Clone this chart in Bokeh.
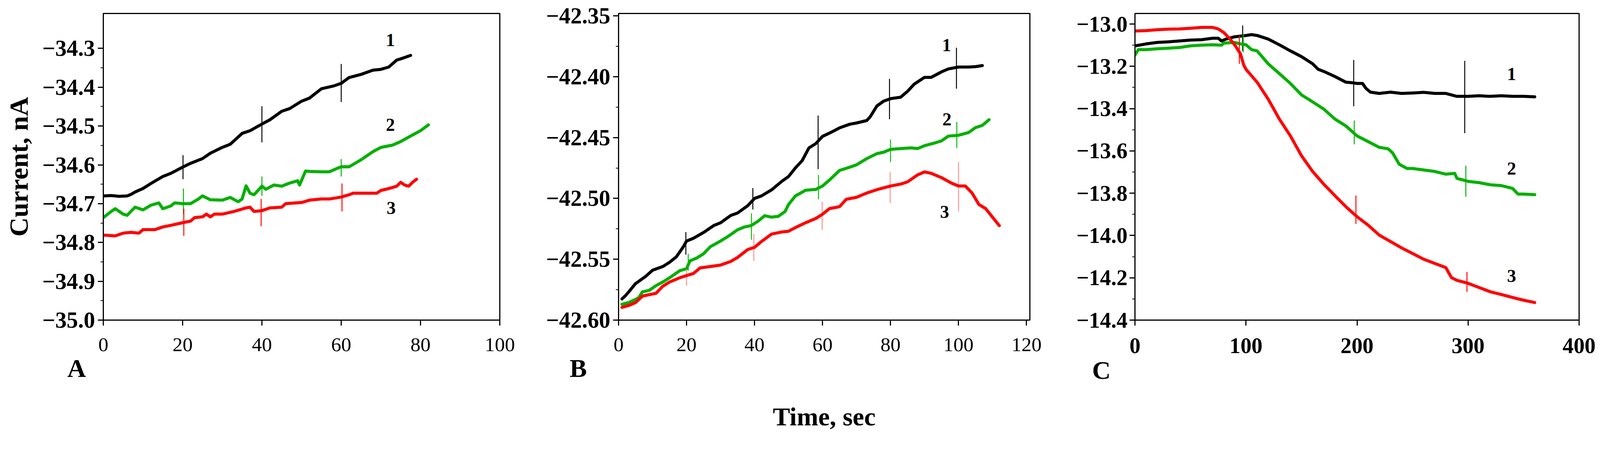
from bokeh.plotting import figure
from bokeh.layouts import row
from bokeh.models import FixedTicker, CustomJSTickFormatter, Label, Range1d, Title, LinearAxis
from bokeh.embed import file_html
from bokeh.resources import INLINE

# ---------------- data ----------------
# Panel A
A_t1 = [0, 2, 4, 6, 7, 8, 10, 12, 15, 17, 20, 22, 25, 27, 30, 32, 35, 37, 40, 42, 45, 47, 50, 52, 55, 58, 60, 62, 65, 68, 70, 72, 74, 75, 77.5]
A_y1 = [-34.680, -34.679, -34.681, -34.680, -34.676, -34.670, -34.661, -34.648, -34.630, -34.622, -34.606, -34.596,
        -34.584, -34.570, -34.555, -34.547, -34.519, -34.512, -34.495, -34.484, -34.462, -34.455, -34.436, -34.428,
        -34.404, -34.397, -34.390, -34.375, -34.367, -34.356, -34.354, -34.348, -34.330, -34.327, -34.318]
A_t2 = [0, 2, 3, 5, 6, 8, 10, 12, 14, 15, 17, 18, 20, 22, 24, 25, 27, 30, 32, 34, 35, 36, 37, 38, 40, 41, 43, 45, 47, 49,
        49.5, 50, 51, 52, 55, 57, 59, 60, 62, 65, 68, 70, 73, 75, 78, 80, 82]
A_y2 = [-34.736, -34.720, -34.713, -34.727, -34.730, -34.709, -34.716, -34.704, -34.698, -34.713, -34.706, -34.698,
        -34.700, -34.700, -34.688, -34.680, -34.690, -34.691, -34.684, -34.695, -34.688, -34.654, -34.673, -34.677,
        -34.655, -34.663, -34.652, -34.655, -34.647, -34.641, -34.652, -34.640, -34.616, -34.617, -34.618, -34.618,
        -34.609, -34.605, -34.605, -34.587, -34.566, -34.555, -34.549, -34.540, -34.523, -34.512, -34.497]
A_t3 = [0, 3, 5, 7, 9, 10, 13, 15, 17, 20, 22, 23, 25, 26, 27, 28, 30, 33, 35, 36, 37, 38, 40, 42, 45, 46, 50, 52, 55,
        57, 60, 62, 63, 66, 69, 70, 72, 74, 75, 76, 77, 78, 79]
A_y3 = [-34.781, -34.783, -34.776, -34.774, -34.776, -34.767, -34.767, -34.760, -34.756, -34.749, -34.745, -34.736,
        -34.734, -34.727, -34.734, -34.727, -34.727, -34.720, -34.714, -34.711, -34.709, -34.720, -34.718, -34.711,
        -34.709, -34.700, -34.697, -34.691, -34.688, -34.688, -34.683, -34.677, -34.673, -34.673, -34.673, -34.666,
        -34.661, -34.655, -34.645, -34.652, -34.655, -34.645, -34.637]
A_m1 = dict(t=[20.1, 40.0, 60.0], lo=[-34.637, -34.542, -34.438], hi=[-34.575, -34.449, -34.340])
A_m2 = dict(t=[20.2, 40.0, 60.0], lo=[-34.727, -34.680, -34.630], hi=[-34.661, -34.630, -34.585])
A_m3 = dict(t=[20.3, 39.8, 60.2], lo=[-34.783, -34.758, -34.720], hi=[-34.713, -34.688, -34.648])
A_xticks = [0, 20, 40, 60, 80, 100]
A_xlabels = ["0", "20", "40", "60", "80", "100"]
A_yticks = [-35.0, -34.9, -34.8, -34.7, -34.6, -34.5, -34.4, -34.3]
A_ylabels = ["\u221235.0", "\u221234.9", "\u221234.8", "\u221234.7", "\u221234.6", "\u221234.5", "\u221234.4", "\u221234.3"]

# Panel B
B_t1 = [1, 2, 3, 5, 8, 10, 13, 15, 17, 19, 20, 22, 25, 28, 30, 33, 35, 38, 40, 42, 45, 48, 50, 52, 54, 56, 58, 60, 63,
        65, 68, 70, 73, 74, 76, 78, 80, 83, 85, 87, 90, 92, 95, 97, 100, 103, 105, 107]
B_y1 = [-42.5826, -42.5800, -42.5768, -42.5700, -42.5640, -42.5590, -42.5560, -42.5525, -42.5480, -42.5400, -42.5350,
        -42.5328, -42.5280, -42.5223, -42.5200, -42.5140, -42.5120, -42.5060, -42.5000, -42.4980, -42.4930, -42.4860,
        -42.4820, -42.4750, -42.4690, -42.4585, -42.4550, -42.4490, -42.4450, -42.4420, -42.4390, -42.4380, -42.4360,
        -42.4330, -42.4240, -42.4200, -42.4180, -42.4168, -42.4120, -42.4060, -42.4005, -42.4005, -42.3960, -42.3936,
        -42.3920, -42.3920, -42.3917, -42.3908]
B_t2 = [1, 3, 5, 6, 7, 9, 11, 13, 15, 18, 20, 21, 23, 25, 27, 30, 32, 35, 37, 39, 41, 43, 45, 47, 49, 50, 52, 55, 58,
        60, 62, 65, 68, 70, 73, 76, 78, 80, 83, 86, 88, 90, 93, 95, 97, 100, 103, 105, 107, 109]
B_y2 = [-42.5870, -42.5856, -42.5830, -42.5814, -42.5768, -42.5756, -42.5717, -42.5687, -42.5652, -42.5594, -42.5578,
        -42.5513, -42.5490, -42.5455, -42.5397, -42.5350, -42.5316, -42.5258, -42.5235, -42.5223, -42.5188, -42.5142,
        -42.5154, -42.5147, -42.5107, -42.5050, -42.4980, -42.4933, -42.4926, -42.4898, -42.4850, -42.4770, -42.4743,
        -42.4724, -42.4673, -42.4632, -42.4620, -42.4597, -42.4590, -42.4585, -42.4590, -42.4567, -42.4544, -42.4527,
        -42.4488, -42.4481, -42.4458, -42.4418, -42.4400, -42.4353]
B_t3 = [1, 3, 5, 7, 9, 11, 13, 15, 18, 20, 22, 24, 27, 30, 33, 35, 38, 40, 42, 45, 48, 50, 52, 55, 58, 60, 62, 65, 67,
        70, 73, 76, 80, 83, 85, 88, 90, 92, 95, 98, 100, 102, 104, 106, 108, 110, 112]
B_y3 = [-42.5896, -42.5880, -42.5856, -42.5803, -42.5791, -42.5780, -42.5722, -42.5687, -42.5652, -42.5634, -42.5617,
        -42.5571, -42.5560, -42.5548, -42.5518, -42.5485, -42.5420, -42.5402, -42.5355, -42.5293, -42.5276, -42.5270,
        -42.5240, -42.5200, -42.5165, -42.5130, -42.5084, -42.5068, -42.5007, -42.4991, -42.4956, -42.4928, -42.4898,
        -42.4882, -42.4864, -42.4806, -42.4782, -42.4794, -42.4829, -42.4875, -42.4898, -42.4898, -42.4956, -42.5050,
        -42.5084, -42.5154, -42.5223]
B_m1 = dict(t=[19.8, 39.5, 58.7, 79.7, 99.4], lo=[-42.5462, -42.5091, -42.4759, -42.4349, -42.4098],
            hi=[-42.5276, -42.4915, -42.4319, -42.4017, -42.3762])
B_m2 = dict(t=[20.5, 39.1, 58.8, 80.0, 99.5], lo=[-42.5594, -42.5339, -42.5007, -42.4701, -42.4585],
            hi=[-42.5455, -42.5123, -42.4806, -42.4516, -42.4372])
B_m3 = dict(t=[20.0, 39.8, 59.9, 79.9, 100.0], lo=[-42.5717, -42.5513, -42.5258, -42.5038, -42.5107],
            hi=[-42.5583, -42.5293, -42.5026, -42.4782, -42.4701])
B_xticks = [0, 20, 40, 60, 80, 100, 120]
B_xlabels = ["0", "20", "40", "60", "80", "100", "120"]
B_yticks = [-42.60, -42.55, -42.50, -42.45, -42.40, -42.35]
B_ylabels = ["\u221242.60", "\u221242.55", "\u221242.50", "\u221242.45", "\u221242.40", "\u221242.35"]

# Panel C
C_t1 = [0, 10, 20, 30, 40, 50, 60, 70, 75, 78, 82, 90, 100, 105, 110, 120, 130, 140, 150, 160, 165, 170, 180, 190, 195,
        200, 205, 208, 212, 220, 230, 240, 250, 260, 270, 280, 285, 290, 300, 310, 320, 330, 340, 350, 360]
C_y1 = [-13.103, -13.094, -13.087, -13.084, -13.080, -13.076, -13.074, -13.067, -13.067, -13.080, -13.071, -13.060,
        -13.054, -13.050, -13.054, -13.071, -13.098, -13.127, -13.154, -13.188, -13.214, -13.224, -13.248, -13.275,
        -13.277, -13.281, -13.281, -13.304, -13.322, -13.328, -13.322, -13.328, -13.326, -13.323, -13.328, -13.328,
        -13.335, -13.342, -13.342, -13.339, -13.342, -13.339, -13.342, -13.342, -13.344]
C_t2 = [0, 3, 10, 20, 30, 40, 50, 60, 70, 78, 80, 90, 95, 100, 105, 110, 120, 130, 140, 150, 160, 170, 180, 190, 200,
        210, 220, 228, 232, 238, 245, 250, 260, 270, 280, 288, 290, 300, 310, 320, 330, 340, 345, 350, 360]
C_y2 = [-13.147, -13.121, -13.121, -13.117, -13.114, -13.111, -13.103, -13.100, -13.098, -13.100, -13.090, -13.087,
        -13.094, -13.098, -13.121, -13.127, -13.188, -13.234, -13.281, -13.335, -13.368, -13.402, -13.449, -13.482,
        -13.529, -13.556, -13.583, -13.590, -13.609, -13.663, -13.683, -13.683, -13.690, -13.697, -13.710, -13.706,
        -13.730, -13.744, -13.750, -13.760, -13.764, -13.777, -13.804, -13.804, -13.807]
C_t3 = [0, 10, 20, 30, 40, 50, 60, 70, 75, 80, 85, 90, 95, 98, 100, 110, 120, 130, 140, 150, 160, 170, 180, 190, 200,
        210, 220, 230, 240, 250, 260, 270, 280, 285, 290, 300, 310, 320, 330, 340, 350, 360]
C_y3 = [-13.033, -13.031, -13.027, -13.024, -13.023, -13.020, -13.016, -13.016, -13.023, -13.040, -13.067, -13.100,
        -13.141, -13.194, -13.214, -13.275, -13.355, -13.449, -13.529, -13.623, -13.697, -13.757, -13.811, -13.864,
        -13.911, -13.951, -13.998, -14.028, -14.058, -14.085, -14.112, -14.132, -14.152, -14.199, -14.212, -14.226,
        -14.246, -14.266, -14.279, -14.293, -14.306, -14.317]
C_m1 = dict(t=[97, 197, 297], lo=[-13.127, -13.389, -13.516], hi=[-13.007, -13.170, -13.174])
C_m2 = dict(t=[97.5, 197.5, 298], lo=[-13.134, -13.569, -13.817], hi=[-13.047, -13.456, -13.670])
C_m3 = dict(t=[94, 199, 299], lo=[-13.188, -13.945, -14.266], hi=[-13.054, -13.811, -14.172])
C_xticks = [0, 100, 200, 300, 400]
C_xlabels = ["0", "100", "200", "300", "400"]
C_yticks = [-14.4, -14.2, -14.0, -13.8, -13.6, -13.4, -13.2, -13.0]
C_ylabels = ["\u221214.4", "\u221214.2", "\u221214.0", "\u221213.8", "\u221213.6", "\u221213.4", "\u221213.2", "\u221213.0"]

curve_names = ["1", "2", "3"]
panel_letters = ["A", "B", "C"]
x_title = "Time, sec"
y_title = "Current, nA"

# ---------------- styling ----------------
SERIF = "Liberation Serif"
COLORS = ["#000000", "#00b000", "#ff0000"]
K = 1 / 1.029          # page px -> css px compensation


def s(v):
    return v * K


def px(v):
    return "%.1fpx" % (v * K)


H = 1120
FRAME_BOTTOM = s(851)  # css px from page top

JS = """
let b = 0;
for (let i = 0; i < v.length; i++) { if (Math.abs(v[i] - tick) < Math.abs(v[b] - tick)) b = i; }
return l[b];
"""


def make_fig(width, bl, br, bt, xr, yr, xticks, xlabels, yticks, ylabels, xbold, yfs=60, ystand=7):
    p = figure(width=int(round(width)), height=H, output_backend="svg", toolbar_location=None,
               x_range=Range1d(*xr), y_range=Range1d(*yr),
               min_border_left=int(round(bl)), min_border_right=int(round(br)), min_border_top=int(round(bt)),
               min_border_bottom=int(round(H + 8 - FRAME_BOTTOM)))
    p.grid.visible = False
    p.outline_line_color = "black"
    p.outline_line_width = s(3)
    p.background_fill_color = "white"
    p.border_fill_color = "white"
    ymin = [(a + b) / 2 for a, b in zip(yticks[:-1], yticks[1:])]
    xa = p.xaxis[0]
    xa.ticker = FixedTicker(ticks=xticks, minor_ticks=[])
    xa.formatter = CustomJSTickFormatter(args=dict(v=xticks, l=xlabels), code=JS)
    ya = p.yaxis[0]
    ya.ticker = FixedTicker(ticks=yticks, minor_ticks=ymin)
    ya.formatter = CustomJSTickFormatter(args=dict(v=yticks, l=ylabels), code=JS)
    for ax in (xa, ya):
        ax.axis_line_width = s(3)
        ax.axis_line_color = "black"
        ax.major_tick_line_width = s(3)
        ax.major_tick_line_color = "black"
        ax.minor_tick_line_width = s(2)
        ax.minor_tick_line_color = "black"
        ax.major_tick_in = 0
        ax.major_tick_out = int(round(s(14)))
        ax.minor_tick_in = 0
        ax.minor_tick_out = int(round(s(7)))
        ax.major_label_text_font = SERIF
        ax.major_label_text_color = "black"
    xa.major_label_text_font_size = px(58) if xbold else px(53)
    xa.major_label_text_font_style = "bold" if xbold else "normal"
    xa.major_label_standoff = int(round(s(33)))
    ya.major_label_text_font_size = px(yfs)
    ya.major_label_text_font_style = "bold"
    ya.major_label_standoff = int(round(s(ystand)))
    return p


def add_series(p, ts, ys, ms, lw=8, mcolors=None):
    for i, (t, y, m) in enumerate(zip(ts, ys, ms)):
        c = COLORS[i]
        mc = mcolors[i] if mcolors else c
        p.segment(x0=m["t"], y0=m["lo"], x1=m["t"], y1=m["hi"], line_color=mc, line_width=s(2.5))
        p.line(t, y, line_color=c, line_width=s(lw), line_join="round", line_cap="round")


def add_text(p, x, y, text, size):
    p.add_layout(Label(x=x, y=y, text=text, text_font=SERIF, text_font_size=px(size),
                       text_font_style="bold", text_color="black",
                       text_align="center", text_baseline="middle"))


def add_letter(p, text, offset):
    p.add_layout(Title(text=text, align="left", offset=s(offset), vertical_align="top", standoff=int(round(s(8))),
                       text_font=SERIF, text_font_size=px(68), text_font_style="bold",
                       text_color="black"), "below")


# target page px layout:  A canvas 8..1420, B 1420..2840, C 2840..4218
# frames: A 280..1324, B 1637..2721, C 2997..4168 ; tops 28/41/43 ; bottom 851
XA0, XB0, XC0, XEND = 8, s(1420) - 0, s(2840), s(4218)
pA = make_fig(XB0 - 8, s(280) - 8, XB0 - s(1324), s(28) - 8, (0, 100), (-35.0, -34.21),
              A_xticks, A_xlabels, A_yticks, A_ylabels, False)
pA.yaxis[0].axis_label = y_title
pA.yaxis[0].axis_label_text_font = SERIF
pA.yaxis[0].axis_label_text_font_size = px(70)
pA.yaxis[0].axis_label_text_font_style = "bold"
pA.yaxis[0].axis_label_text_color = "black"
pA.yaxis[0].axis_label_standoff = int(round(s(20)))
add_series(pA, [A_t1, A_t2, A_t3], [A_y1, A_y2, A_y3], [A_m1, A_m2, A_m3])
add_text(pA, 72.4, -34.278, curve_names[0], 48)
add_text(pA, 72.4, -34.497, curve_names[1], 48)
add_text(pA, 72.6, -34.711, curve_names[2], 48)
add_letter(pA, panel_letters[0], -95)

pB = make_fig(XC0 - XB0, s(1637) - XB0, XC0 - s(2721), s(41) - 8, (0, 121), (-42.60, -42.348),
              B_xticks, B_xlabels, B_yticks, B_ylabels, False)
add_series(pB, [B_t1, B_t2, B_t3], [B_y1, B_y2, B_y3], [B_m1, B_m2, B_m3],
           mcolors=["#000000", "#00c000", "#ff9090"])
add_text(pB, 96.5, -42.374, curve_names[0], 48)
add_text(pB, 96.6, -42.435, curve_names[1], 48)
add_text(pB, 95.9, -42.511, curve_names[2], 48)
add_letter(pB, panel_letters[1], -129)
tax = LinearAxis(ticker=FixedTicker(ticks=[]), axis_line_color=None, major_tick_line_color=None,
                 minor_tick_line_color=None, major_label_text_font_size="0px",
                 axis_label=x_title, axis_label_text_font=SERIF, axis_label_text_font_size=px(68),
                 axis_label_text_font_style="bold", axis_label_text_color="black",
                 axis_label_standoff=int(round(s(46))))
pB.add_layout(tax, "below")

pC = make_fig(XEND - XC0, s(2997) - XC0, XEND - s(4168), s(43) - 8, (0, 400), (-14.4, -12.95),
              C_xticks, C_xlabels, C_yticks, C_ylabels, True, yfs=58, ystand=5)
add_series(pC, [C_t1, C_t2, C_t3], [C_y1, C_y2, C_y3], [C_m1, C_m2, C_m3])
add_text(pC, 339.2, -13.237, curve_names[0], 48)
add_text(pC, 339.2, -13.683, curve_names[1], 48)
add_text(pC, 339.2, -14.192, curve_names[2], 48)
add_letter(pC, panel_letters[2], -113)

layout = row(pA, pB, pC, spacing=0)
open("out.html", "w").write(file_html(layout, INLINE))
